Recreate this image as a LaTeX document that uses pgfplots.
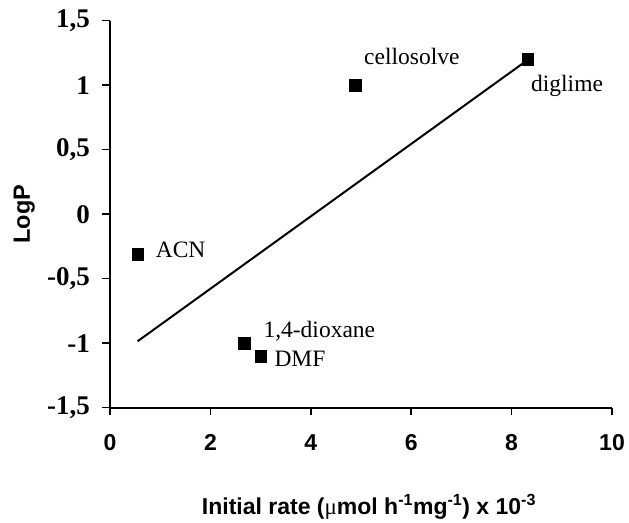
\documentclass[border=0pt]{standalone}
\usepackage{fontspec}
\setmainfont{Liberation Serif}
\setsansfont{Liberation Sans}
\usepackage{pgfplots}
\pgfplotsset{compat=1.18}
\begin{document}
\begin{tikzpicture}
\begin{axis}[
  name=ax,
  scale only axis, width=502pt, height=387pt,
  xmin=0, xmax=10, ymin=-1.5, ymax=1.5,
  axis lines*=left,
  axis line style={line width=1.8pt},
  tick align=outside,
  major tick length=7.5pt,
  every tick/.style={black, line width=1.6pt},
  xtick={0,2,4,6,8,10},
  xticklabels={0,2,4,6,8,10},
  ytick={-1.5,-1,-0.5,0,0.5,1,1.5},
  yticklabels={{-1,5},{-1},{-0,5},{0},{0,5},{1},{1,5}},
  xticklabel style={font=\sffamily\bfseries\fontsize{23}{26}\selectfont, yshift=-16pt},
  yticklabel style={font=\rmfamily\bfseries\fontsize{27}{30}\selectfont, xshift=-9pt},
  xlabel={Initial rate ({\rmfamily\mdseries μ}mol h\textsuperscript{-1}mg\textsuperscript{-1}) x 10\textsuperscript{-3}},
  ylabel={LogP},
  xlabel style={font=\sffamily\bfseries\fontsize{23}{26}\selectfont, at={([xshift=8pt,yshift=-107pt]rel axis cs:0.5,0)}, anchor=base},
  ylabel style={font=\sffamily\bfseries\fontsize{23.5}{26}\selectfont, at={([xshift=-80pt]rel axis cs:0,0.5)}, anchor=base},
  clip=false,
]
\addplot[black, line width=2pt] coordinates {(0.55,-0.985) (8.32,1.196)};
\addplot[only marks, mark=square*, mark size=5.8pt, black] coordinates {
  (0.55,-0.31) (2.67,-1.0) (3.0,-1.1) (4.88,1.0) (8.32,1.2)};
\begin{scope}[every node/.style={font=\rmfamily\fontsize{23.5}{26}\selectfont, inner sep=0pt, anchor=base west}]
\node[xshift=9pt, yshift=20.3pt] at (axis cs:4.88,1.0) {cellosolve};
\node[xshift=3.3pt, yshift=-31.7pt] at (axis cs:8.32,1.2) {diglime};
\node[xshift=18pt, yshift=-3pt] at (axis cs:0.55,-0.31) {ACN};
\node[xshift=19.3pt, yshift=5.7pt] at (axis cs:2.67,-1.0) {1,4-dioxane};
\node[xshift=13.7pt, yshift=-10pt] at (axis cs:3.0,-1.1) {DMF};
\end{scope}
\end{axis}
\path ([shift={(-110pt,-115.3pt)}]ax.south west) rectangle ([shift={(17pt,20.7pt)}]ax.north east);
\end{tikzpicture}
\end{document}
